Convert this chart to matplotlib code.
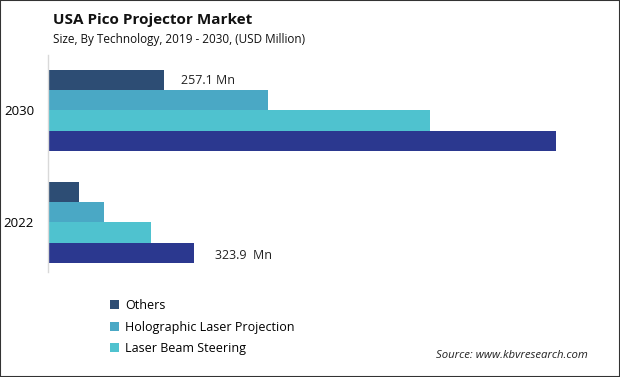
import matplotlib.pyplot as plt
from matplotlib.patches import Rectangle

years = ["2022", "2030"]
others = [68.8, 257.1]
holographic = [124.2, 487.8]
laser_beam = [228.5, 847.0]
dlp = [323.9, 1126.0]

series = [("Others", others, "#2d4d74"),
          ("Holographic Laser Projection", holographic, "#4aa8c5"),
          ("Laser Beam Steering", laser_beam, "#4fc2cf"),
          ("DLP", dlp, "#2b388f")]

plt.rcParams['font.family'] = ['Open Sans', 'DejaVu Sans']

fig = plt.figure(figsize=(6.2, 3.77), dpi=100)
ax = fig.add_axes([48 / 620, 1 - 272 / 377, 552 / 620, 217 / 377])

h = 0.181
offsets = [1.5, 0.5, -0.5, -1.5]
pos = range(len(years))
for (name, vals, color), off in zip(series, offsets):
    ys = [p + off * h for p in pos]
    lab = name if name != "DLP" else "_nolegend_"
    ax.barh(ys, vals, height=h, color=color, label=lab)

# value labels
ax.text(others[1] + 17 * 2.217, 1 + 1.5 * h, f"{others[1]} Mn", va="center", ha="left", fontsize=9, color="#222222")
ax.text(dlp[0] + 21 * 2.217, -1.5 * h - 0.02, f"{dlp[0]}  Mn", va="center", ha="left", fontsize=9, color="#222222")

ax.set_xlim(0, 552 * 2.217)
ax.set_ylim(-0.442, 1.4955)
ax.set_yticks(list(pos))
ax.set_yticklabels(years, fontsize=9.5)
ax.tick_params(axis="y", length=0, pad=10)
ax.set_xticks([])
for s in ["top", "right", "bottom"]:
    ax.spines[s].set_visible(False)
ax.spines["left"].set_color("#d9d9d9")
ax.spines["left"].set_linewidth(1)

fig.text(53 / 620, 1 - 20 / 377, "USA Pico Projector Market", fontsize=11, fontweight="bold", va="center", ha="left", color="#111111")
fig.text(53 / 620, 1 - 40 / 377, "Size, By Technology, 2019 - 2030, (USD Million)", fontsize=8.5, va="center", ha="left", color="#111111")

handles, labels = ax.get_legend_handles_labels()
fig.legend(handles, labels, loc="upper left", bbox_to_anchor=(110 / 620, 1 - 299 / 377), frameon=False,
           fontsize=9, handlelength=0.7, handleheight=0.7, handletextpad=0.5, labelspacing=0.68, borderaxespad=0, borderpad=0)

fig.text(588 / 620, 1 - 356 / 377, "Source: www.kbvresearch.com", fontsize=8.2, style="italic", ha="right", va="center", color="#222222")

fig.patches.append(Rectangle((0, 0), 1, 1, transform=fig.transFigure, fill=False, edgecolor="#333333", linewidth=1.5))

fig.savefig("out.png", dpi=100)
